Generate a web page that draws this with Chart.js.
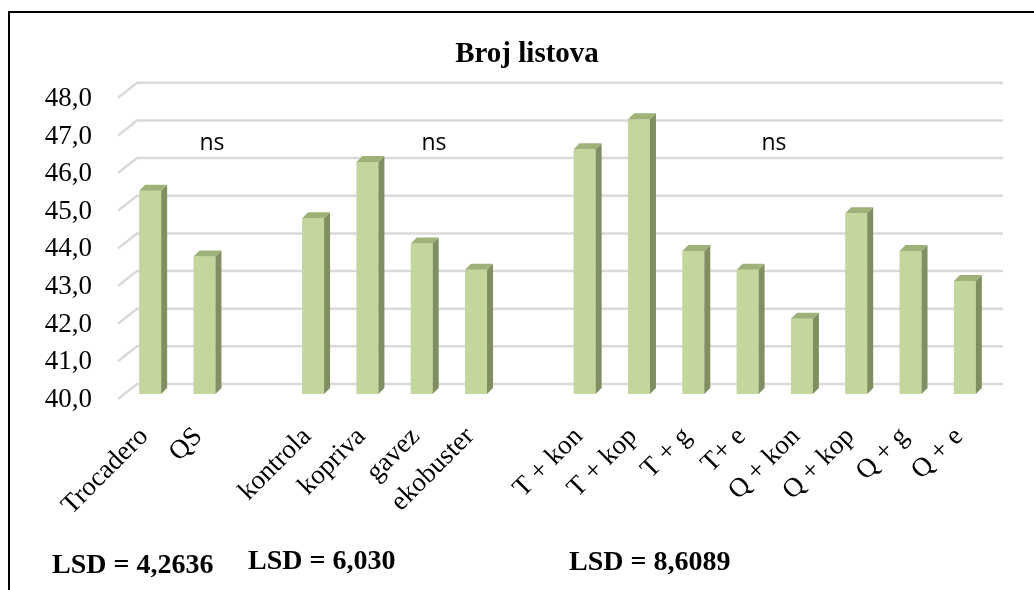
<!DOCTYPE html>
<html>
<head>
<meta charset="utf-8">
<script src="https://cdn.jsdelivr.net/npm/chart.js@4/dist/chart.umd.min.js"></script>
<style>
  html, body { margin: 0; padding: 0; background: #fff; }
  canvas { display: block; }
</style>
</head>
<body>
<canvas id="listovi" width="1034" height="590"></canvas>
<script>
"use strict";

// data
var categories = ["Trocadero", "QS", "", "kontrola", "kopriva", "gavez", "ekobuster", "",
    "T + kon", "T + kop", "T + g", "T+ e", "Q + kon", "Q + kop", "Q + g", "Q + e"];
var leafCount = [45.4, 43.65, null, 44.67, 46.16, 44.0, 43.3, null,
    46.5, 47.3, 43.8, 43.3, 42.0, 44.8, 43.8, 43.0];
var yMin = 40, yMax = 48, yStep = 1;
var nsLabels = ["ns", "ns", "ns"];
var lsdLabels = ["LSD = 4,2636", "LSD = 6,030", "LSD = 8,6089"];

var serif = "'Liberation Serif', 'Times New Roman', serif";

/* fake 3D: gridlines on the back wall plus the little floor diagonals */
var backWall = {
    id: "backWall",
    afterLayout: function(chart) {
        // title sits a bit right of the plot centre in the original
        if (chart.titleBlock) chart.titleBlock.left = 62;
    },
    beforeDraw: function(chart) {
        var ctx = chart.ctx;
        ctx.save();
        ctx.fillStyle = "#fff";
        ctx.fillRect(0, 0, chart.width, chart.height);
        ctx.strokeStyle = "#000";
        ctx.lineWidth = 2;
        ctx.strokeRect(9, 12, chart.width + 20, chart.height + 20);
        ctx.restore();
    },
    beforeDatasetsDraw: function(chart) {
        var ctx = chart.ctx;
        var area = chart.chartArea;
        var y = chart.scales.y;
        ctx.save();
        ctx.strokeStyle = "#dadada";
        ctx.lineWidth = 2.5;
        y.ticks.forEach(function(t) {
            var py = y.getPixelForValue(t.value);
            ctx.beginPath();
            ctx.moveTo(area.left - 5, py + 5);
            ctx.lineTo(area.left + 14, py - 10);
            ctx.lineTo(area.right + 11, py - 10);
            ctx.stroke();
        });
        ctx.restore();
    },
    afterDatasetsDraw: function(chart) {
        var ctx = chart.ctx;
        var area = chart.chartArea;
        var values = chart.data.datasets[0].data;
        var d = 6;
        ctx.save();
        chart.getDatasetMeta(0).data.forEach(function(bar, i) {
            if (values[i] == null) return;
            var l = bar.x - bar.width / 2, r = bar.x + bar.width / 2;
            var b = Math.min(bar.base, area.bottom);
            // side
            ctx.fillStyle = "#808f62";
            ctx.beginPath();
            ctx.moveTo(r, bar.y);
            ctx.lineTo(r + d, bar.y - d);
            ctx.lineTo(r + d, b - d);
            ctx.lineTo(r, b);
            ctx.closePath();
            ctx.fill();
            // top
            ctx.fillStyle = "#9eb277";
            ctx.beginPath();
            ctx.moveTo(l, bar.y);
            ctx.lineTo(l + d, bar.y - d);
            ctx.lineTo(r + d, bar.y - d);
            ctx.lineTo(r, bar.y);
            ctx.closePath();
            ctx.fill();
        });
        ctx.restore();
    },
    afterDraw: function(chart) {
        var ctx = chart.ctx;
        ctx.save();
        ctx.fillStyle = "#000";
        ctx.textBaseline = "alphabetic";
        ctx.textAlign = "center";
        ctx.font = "23px 'Open Sans', sans-serif";
        var nsX = [212, 434, 774];
        nsLabels.forEach(function(s, i) { ctx.fillText(s, nsX[i], 150); });
        ctx.textAlign = "left";
        ctx.font = "bold 28px " + serif;
        var lsdX = [52, 248, 569], lsdY = [573, 569, 570];
        lsdLabels.forEach(function(s, i) { ctx.fillText(s, lsdX[i], lsdY[i]); });
        ctx.restore();
    }
};

new Chart(document.getElementById("listovi"), {
    type: "bar",
    data: {
        labels: categories,
        datasets: [{
            data: leafCount,
            backgroundColor: "#c3d69b",
            borderWidth: 0,
            barPercentage: 0.405,
            categoryPercentage: 1.0
        }]
    },
    options: {
        responsive: false,
        animation: false,
        devicePixelRatio: 1,
        layout: {
            padding: { left: 0, right: 42, top: 0, bottom: 0 }
        },
        scales: {
            x: {
                grid: { display: false },
                border: { display: false },
                ticks: {
                    autoSkip: false,
                    minRotation: 45,
                    maxRotation: 45,
                    padding: 19,
                    labelOffset: -6,
                    color: "#000",
                    font: { family: serif, size: 27 }
                },
                afterFit: function(scale) { scale.height = 196; }
            },
            y: {
                min: yMin,
                max: yMax,
                grid: { display: false },
                border: { display: false },
                ticks: {
                    stepSize: yStep,
                    padding: 23,
                    labelOffset: 6,
                    color: "#000",
                    font: { family: serif, size: 27 },
                    callback: function(v) { return v.toFixed(1).replace(".", ","); }
                },
                afterFit: function(scale) { scale.width = 123; }
            }
        },
        plugins: {
            legend: { display: false },
            tooltip: { enabled: false },
            title: {
                display: true,
                text: "Broj listova",
                color: "#000",
                font: { family: serif, size: 29, weight: "bold" },
                padding: { top: 37, bottom: 21 }
            }
        }
    },
    plugins: [backWall]
});
</script>
</body>
</html>
